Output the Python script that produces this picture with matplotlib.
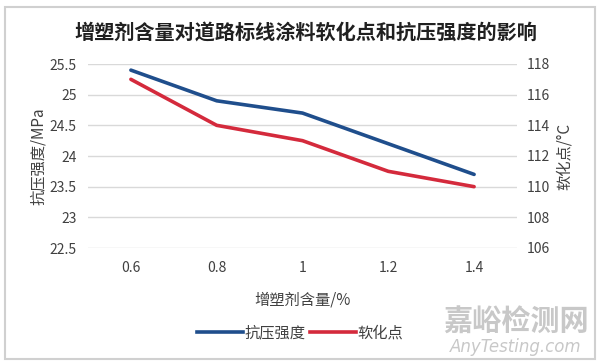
import numpy as np
import matplotlib.pyplot as plt
from matplotlib.patches import Rectangle
from matplotlib.lines import Line2D

plt.rcParams['font.family'] = ['Noto Sans CJK SC', 'DejaVu Sans']

contents = ["0.6", "0.8", "1", "1.2", "1.4"]
strength = [25.4, 24.9, 24.7, 24.2, 23.7]
soft_point = [117, 114, 113, 111, 110]

blue = "#1f4e8c"
red = "#d42a3c"
grid = "#d9d9d9"
txt = "#404040"

fig = plt.figure(figsize=(6, 3.63), dpi=100)
ax = fig.add_axes([88/600, 1-248/363, 429/600, 184/363])
ax2 = ax.twinx()

x = np.arange(len(contents))
ax.plot(x, strength, color=blue, lw=2.6, solid_capstyle='round', zorder=3)
ax2.plot(x, soft_point, color=red, lw=2.6, solid_capstyle='round', zorder=3)

ax.set_xlim(-0.5, len(contents)-0.5)
ax.set_ylim(22.5, 25.5)
ax.set_yticks(np.arange(22.5, 25.51, 0.5))
ax.set_yticklabels(["22.5", "23", "23.5", "24", "24.5", "25", "25.5"])
ax2.set_ylim(106, 118)
ax2.set_yticks(np.arange(106, 119, 2))
ax.set_xticks(x)
ax.set_xticklabels(contents)
ax.grid(axis='y', color=grid, lw=1)
ax.set_axisbelow(True)

for a in (ax, ax2):
    for s in a.spines.values():
        s.set_visible(False)
    a.tick_params(length=0, labelsize=10, colors=txt, pad=6)
ax.tick_params(axis='y', pad=8)
ax2.tick_params(axis='y', pad=7)
ax.tick_params(axis='x', pad=9)

ax.set_ylabel("抗压强度/MPa", fontsize=11, color=txt, labelpad=2)
ax2.set_ylabel("软化点/°C", fontsize=11, color=txt, labelpad=4)
ax.set_xlabel("增塑剂含量/%", fontsize=11, color=txt, labelpad=12)

fig.text(0.51, 0.912, "增塑剂含量对道路标线涂料软化点和抗压强度的影响",
         ha='center', va='center', fontsize=14.5, fontweight='bold', color='#202020')

handles = [Line2D([], [], color=blue, lw=2.6), Line2D([], [], color=red, lw=2.6)]
fig.legend(handles, ["抗压强度", "软化点"], loc='center', bbox_to_anchor=(0.5, 1-333/363),
           ncol=2, frameon=False, fontsize=11, handlelength=3.0, columnspacing=0.3,
           handletextpad=0.1, labelcolor=txt)

fig.text(0.86, 0.115, "嘉峪检测网", ha='center', va='center', fontsize=21,
         color='#c8c8c8', fontweight='bold')
fig.text(0.86, 0.045, "AnyTesting.com", ha='center', va='center', fontsize=12,
         color='#c8c8c8', style='italic', family='DejaVu Sans')

fig.patches.append(Rectangle((5/600, 4/363), 590/600, 352/363, transform=fig.transFigure,
                             fill=False, edgecolor='#d0d0d0', lw=1.5))

fig.savefig("out.png", dpi=100)
